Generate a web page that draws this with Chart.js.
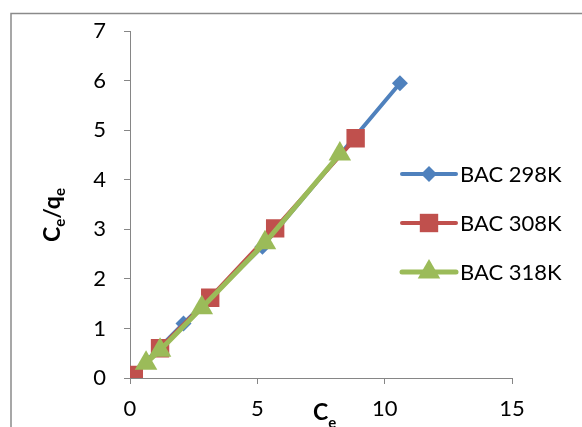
<!DOCTYPE html>
<html>
<head>
<meta charset="utf-8">
<script src="https://cdn.jsdelivr.net/npm/chart.js@4.4.0/dist/chart.umd.min.js"></script>
<style>
  body { margin: 0; background: #fff; }
  canvas { display: block; }
</style>
</head>
<body>
<canvas id="isoChart" width="582" height="427"></canvas>
<script>
// data (Ce, Ce/qe)
const seriesNames = ['BAC 298K', 'BAC 308K', 'BAC 318K'];
const ce298 = [0.02, 2.1, 5.2, 10.6];
const ratio298 = [0.02, 1.1, 2.65, 5.95];
const ce308 = [0.15, 1.18, 3.15, 5.7, 8.86];
const ratio308 = [0.06, 0.6, 1.62, 3.02, 4.84];
const ce318 = [0.63, 1.18, 2.82, 5.3, 8.24];
const ratio318 = [0.3, 0.56, 1.42, 2.73, 4.52];
const xTicks = [0, 5, 10, 15];
const yTicks = [0, 1, 2, 3, 4, 5, 6, 7];

const colors = ['#4F81BD', '#C0504D', '#9BBB59'];
const styles = ['rectRot', 'rect', 'triangle'];
const radii = [8, 13, 13];
const lineWidths = [4, 4, 5];
const fontFam = 'Lato, "Open Sans", sans-serif';

const toPoints = (xs, ys) => xs.map((x, i) => ({ x: x, y: ys[i] }));

const makeSet = (i, xs, ys) => ({
    label: seriesNames[i],
    data: toPoints(xs, ys),
    showLine: true,
    borderColor: colors[i],
    backgroundColor: colors[i],
    borderWidth: lineWidths[i],
    pointStyle: styles[i],
    pointRadius: radii[i],
    pointHoverRadius: radii[i],
    pointBorderWidth: 0,
    order: 3 - i
});

// outer frame, axis titles with subscripts, legend
const extras = {
    id: 'extras',
    afterDraw(chart) {
        const ctx = chart.ctx;
        ctx.save();
        ctx.strokeStyle = '#8a8a8a';
        ctx.lineWidth = 1.5;
        ctx.beginPath();
        ctx.moveTo(11, 427);
        ctx.lineTo(11, 13.5);
        ctx.lineTo(582, 13.5);
        ctx.stroke();

        ctx.fillStyle = '#000';
        ctx.textBaseline = 'alphabetic';
        // x title
        ctx.font = 'bold 23px ' + fontFam;
        ctx.fillText('C', 313, 420);
        let w = ctx.measureText('C').width;
        ctx.font = 'bold 15px ' + fontFam;
        ctx.fillText('e', 313 + w, 428);

        // y title
        ctx.translate(60, 242);
        ctx.rotate(-Math.PI / 2);
        let x = 0;
        const parts = [['C', false], ['e', true], ['/q', false], ['e', true]];
        parts.forEach(p => {
            ctx.font = p[1] ? 'bold 15px ' + fontFam : 'bold 23px ' + fontFam;
            ctx.fillText(p[0], x, p[1] ? 5 : 0);
            x += ctx.measureText(p[0]).width;
        });
        ctx.restore();

        // legend
        ctx.save();
        chart.data.datasets.forEach((ds, i) => {
            const cy = 174 + i * 49;
            ctx.strokeStyle = ds.borderColor;
            ctx.lineWidth = ds.borderWidth;
            ctx.lineCap = 'round';
            ctx.beginPath();
            ctx.moveTo(402, cy);
            ctx.lineTo(456, cy);
            ctx.stroke();
            ctx.fillStyle = ds.backgroundColor;
            Chart.helpers.drawPoint(ctx, { pointStyle: ds.pointStyle, radius: ds.pointRadius, borderWidth: 0 }, 429, cy);
            ctx.fillStyle = '#000';
            ctx.font = '22px ' + fontFam;
            ctx.textBaseline = 'middle';
            ctx.fillText(ds.label, 460, cy + 1);
        });
        ctx.restore();
    }
};

const ctx = document.getElementById('isoChart').getContext('2d');
new Chart(ctx, {
    type: 'scatter',
    data: {
        datasets: [
            makeSet(0, ce298, ratio298),
            makeSet(1, ce308, ratio308),
            makeSet(2, ce318, ratio318)
        ]
    },
    options: {
        responsive: false,
        animation: false,
        layout: { padding: { left: 0, right: 70, top: 29, bottom: 0 } },
        plugins: { legend: { display: false }, tooltip: { enabled: false } },
        scales: {
            x: {
                type: 'linear',
                min: 0,
                max: 15,
                afterBuildTicks: s => { s.ticks = xTicks.map(v => ({ value: v })); },
                afterFit: s => { s.height = 49; },
                grid: { drawOnChartArea: false, drawTicks: true, tickLength: 6, color: '#868686' },
                border: { color: '#868686', width: 1 },
                ticks: { color: '#000', font: { family: fontFam, size: 22 }, padding: 12, maxRotation: 0 }
            },
            y: {
                type: 'linear',
                min: 0,
                max: 7,
                afterBuildTicks: s => { s.ticks = yTicks.map(v => ({ value: v })); },
                afterFit: s => { s.width = 130; },
                grid: { drawOnChartArea: false, drawTicks: true, tickLength: 6, color: '#868686' },
                border: { color: '#868686', width: 1 },
                ticks: { color: '#000', font: { family: fontFam, size: 22 }, padding: 18 }
            }
        }
    },
    plugins: [extras]
});
</script>
</body>
</html>
